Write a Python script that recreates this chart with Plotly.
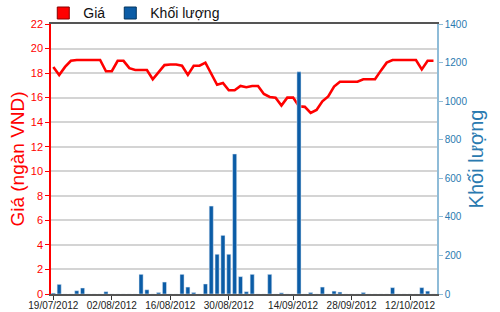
import pandas as pd
import plotly.graph_objects as go

# Trading days (weekdays) 19/07/2012 - 19/10/2012
dates = [d.strftime("%Y-%m-%d") for d in pd.bdate_range("2012-07-19", "2012-10-19")]

price = [18.5, 17.85, 18.5, 19.0, 19.07, 19.07, 19.07, 19.07, 19.07, 18.15,
         18.15, 19.0, 19.0, 18.4, 18.25, 18.25, 18.25, 17.5, 18.1, 18.65,
         18.7, 18.7, 18.6, 17.85, 18.6, 18.6, 18.85, 17.95, 17.05, 17.2,
         16.6, 16.6, 16.95, 16.85, 16.95, 16.95, 16.3, 16.05, 16.0, 15.35,
         16.0, 16.0, 15.3, 15.25, 14.75, 15.0, 15.7, 16.1, 16.9, 17.3,
         17.3, 17.3, 17.3, 17.5, 17.5, 17.5, 18.2, 18.85, 19.07, 19.07,
         19.07, 19.07, 19.07, 18.3, 19.0, 19.0]

volume = [5, 50, 0, 0, 17, 31, 0, 0, 0, 12,
          0, 0, 0, 0, 0, 102, 22, 0, 8, 62,
          0, 0, 102, 36, 8, 0, 52, 456, 206, 304,
          206, 726, 90, 12, 102, 0, 0, 102, 0, 6,
          0, 0, 1152, 0, 8, 0, 36, 0, 15, 10,
          0, 0, 0, 8, 0, 0, 0, 0, 33, 0,
          0, 0, 0, 33, 15, 0]

tick_dates = ["2012-07-19", "2012-08-02", "2012-08-16", "2012-08-30",
              "2012-09-14", "2012-09-28", "2012-10-12"]
tick_labels = ["19/07/2012", "02/08/2012", "16/08/2012", "30/08/2012",
               "14/09/2012", "28/09/2012", "12/10/2012"]

RED = "#ff0000"
BLUE = "#0b5ca6"
AXBLUE = "#2a7ab0"

fig = go.Figure()
fig.add_trace(go.Bar(x=dates, y=volume, yaxis="y2", marker_color=BLUE,
                     width=0.7, showlegend=False, name="Khối lượng"))
fig.add_trace(go.Scatter(x=dates, y=price, mode="lines",
                         line=dict(color=RED, width=2.6), showlegend=False, name="Giá"))
# legend entries (square swatches)
fig.add_trace(go.Bar(x=[None], y=[None], name="Giá",
                     marker=dict(color=RED, line=dict(color="#800", width=1))))
fig.add_trace(go.Bar(x=[None], y=[None], name="Khối lượng", yaxis="y2",
                     marker=dict(color=BLUE, line=dict(color="#03345e", width=1))))

fig.update_layout(
    width=500, height=312,
    margin=dict(l=51, r=63, t=24, b=18, autoexpand=False),
    paper_bgcolor="white", plot_bgcolor="white",
    font=dict(family="Liberation Sans, Arial, sans-serif"),
    legend=dict(orientation="h", x=-0.02, xanchor="left", y=0.98, yanchor="bottom",
                font=dict(size=14, color="#111"), itemwidth=30,
                bgcolor="rgba(0,0,0,0)", traceorder="normal", tracegroupgap=0),
    xaxis=dict(type="category", range=[-0.4, 65.6], tickmode="array",
               tickvals=tick_dates, ticktext=tick_labels,
               showgrid=False, showline=True, linecolor="#555", linewidth=1.5,
               mirror=True, ticks="outside", ticklen=4, tickcolor="#333",
               ticklabelstandoff=-3,
               tickfont=dict(size=10, color="#222"), zeroline=False),
    yaxis=dict(range=[0, 22], dtick=2, showgrid=True, gridcolor="#d4d4d4", gridwidth=2,
               showline=True, linecolor=RED, linewidth=1.5, ticks="outside",
               ticklen=4, tickcolor=RED, tickfont=dict(size=11, color=RED),
               title=dict(text="Giá (ngàn VND)", font=dict(size=19, color=RED), standoff=1),
               zeroline=False),
    yaxis2=dict(range=[0, 1400], dtick=200, overlaying="y", side="right",
                showgrid=False, showline=True, linecolor="#8fbcd8", linewidth=1.5,
                ticks="outside", ticklen=4, tickcolor="#8fbcd8",
                tickfont=dict(size=10, color=AXBLUE),
                title=dict(text="Khối lượng", font=dict(size=20, color=AXBLUE), standoff=3),
                zeroline=False),
)

fig.write_html("out.html")
